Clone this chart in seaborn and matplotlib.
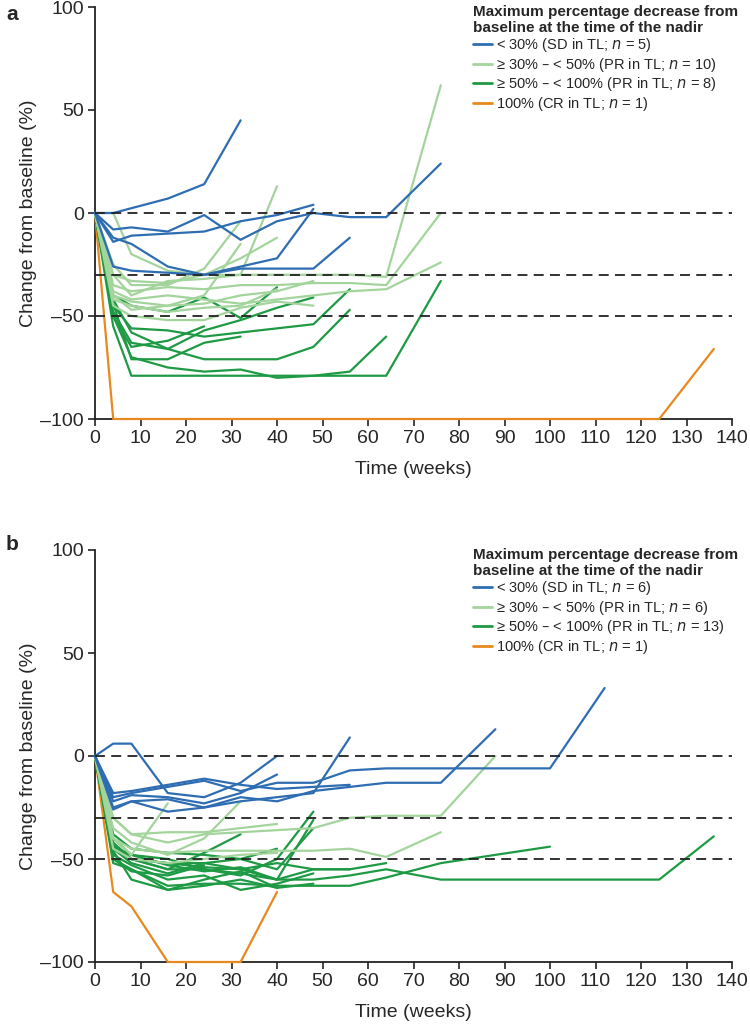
import numpy as np
import pandas as pd
import seaborn as sns
import matplotlib
matplotlib.use("Agg")
import matplotlib.pyplot as plt
from matplotlib.lines import Line2D

sns.set_theme(style="white")
plt.rcParams['font.family'] = ['Liberation Sans', 'DejaVu Sans']

# ---------------- data ----------------
GROUPS = ["<30", "30-50", "50-100", "100"]
COLORS = {"<30": "#2f6db3", "30-50": "#a3d49c", "50-100": "#1f9a44", "100": "#e8891e"}

# Panel a
a_blue = [
    ([0, 4, 16, 24, 32], [0, 0, 7, 14, 45]),
    ([0, 4, 8, 16, 24, 32, 40, 48, 56, 64, 76], [0, -8, -7, -9, -1, -13, -4, 0, -2, -2, 24]),
    ([0, 4, 8, 16, 24, 32, 40, 48], [0, -14, -11, -10, -9, -4, -1, 4]),
    ([0, 4, 8, 16, 24, 32, 40, 48], [0, -12, -15, -26, -30, -26, -22, 2]),
    ([0, 4, 8, 16, 24, 32, 40, 48, 56], [0, -26, -28, -29, -30, -27, -27, -27, -12]),
]
a_light = [
    ([0, 4, 8, 16, 24, 32, 40, 48, 56, 64, 76], [0, -30, -40, -33, -32, -30, -30, -30, -30, -31, 62]),
    ([0, 4, 8, 16, 24, 32, 40, 48, 56, 64, 76], [0, -35, -38, -36, -37, -35, -35, -34, -34, -35, 0]),
    ([0, 4, 8, 16, 24, 32, 40, 48, 56, 64, 76], [0, -38, -42, -40, -42, -44, -42, -40, -38, -37, -24]),
    ([0, 4, 8, 16, 24, 32, 40], [0, 0, -20, -28, -30, -30, 13]),
    ([0, 4, 8, 16, 24, 32], [0, -25, -35, -35, -27, -4]),
    ([0, 4, 8, 16, 24, 32, 40], [0, -30, -33, -34, -30, -22, -12]),
    ([0, 4, 8, 16, 24, 32], [0, -40, -43, -45, -40, -15]),
    ([0, 4, 8, 16, 24, 32, 40, 48], [0, -40, -47, -45, -44, -40, -38, -33]),
    ([0, 4, 8, 16, 24, 32, 40], [0, -42, -45, -48, -46, -45, -37]),
    ([0, 4, 8, 16, 24, 32, 40, 48], [0, -45, -50, -52, -52, -46, -43, -45]),
]
a_green = [
    ([0, 4, 8, 16, 24, 32, 40, 48, 56, 64, 76], [0, -55, -79, -79, -79, -79, -79, -79, -79, -79, -33]),
    ([0, 4, 8, 16, 24, 32, 40, 48, 56, 64], [0, -50, -70, -75, -77, -76, -80, -79, -77, -60]),
    ([0, 4, 8, 16, 24, 32, 40, 48, 56], [0, -48, -63, -66, -71, -71, -71, -65, -47]),
    ([0, 4, 8, 16, 24, 32, 40, 48, 56], [0, -45, -56, -57, -60, -58, -56, -54, -37]),
    ([0, 4, 8, 16, 24], [0, -50, -65, -62, -55]),
    ([0, 4, 8, 16, 24, 32, 40], [0, -40, -45, -48, -41, -51, -36]),
    ([0, 4, 8, 16, 24, 32, 40, 48], [0, -42, -58, -66, -57, -52, -46, -41]),
    ([0, 4, 8, 16, 24, 32], [0, -44, -71, -71, -63, -60]),
]
a_orange = [
    ([0, 4, 124, 136], [0, -100, -100, -66]),
]

# Panel b
b_blue = [
    ([0, 4, 8, 16, 24, 32, 40], [0, 6, 6, -18, -20, -13, 0]),
    ([0, 4, 8, 16, 24, 32, 40, 48, 56, 64, 100, 112], [0, -20, -18, -15, -12, -17, -13, -13, -7, -6, -6, 33]),
    ([0, 4, 8, 16, 24, 32, 40, 48, 56], [0, -25, -22, -21, -25, -22, -20, -18, 9]),
    ([0, 4, 8, 16, 24, 32, 40], [0, -22, -19, -20, -23, -18, -9]),
    ([0, 4, 8, 16, 24, 32, 40, 48, 56, 64, 76, 88], [0, -26, -22, -27, -25, -20, -22, -17, -15, -13, -13, 13]),
    ([0, 4, 8, 16, 24, 32, 40, 48, 56], [0, -18, -17, -14, -11, -14, -16, -15, -14]),
]
b_light = [
    ([0, 4, 8, 16, 24, 32, 40, 48, 56, 64, 76, 88], [0, -30, -38, -42, -38, -37, -36, -35, -30, -29, -29, 0]),
    ([0, 4, 8, 16, 24, 32, 40, 48, 56, 64, 76], [0, -40, -45, -47, -46, -46, -46, -46, -45, -49, -37]),
    ([0, 4, 8, 16], [0, -40, -48, -23]),
    ([0, 4, 8, 16, 24, 32], [0, -35, -42, -48, -40, -22]),
    ([0, 4, 8, 16, 24, 32, 40], [0, -30, -38, -37, -37, -35, -33]),
    ([0, 4, 8, 16, 24, 32, 40], [0, -45, -50, -52, -50, -48, -47]),
]
b_green = [
    ([0, 4, 8, 16, 24, 32, 40, 48, 56, 64, 76, 124, 136], [0, -45, -50, -55, -55, -57, -60, -60, -58, -55, -60, -60, -39]),
    ([0, 4, 8, 16, 24, 32, 40, 48, 56, 64, 76, 100], [0, -50, -55, -63, -62, -62, -63, -63, -63, -59, -52, -44]),
    ([0, 4, 8, 16, 24, 32, 40, 48], [0, -40, -48, -50, -55, -58, -50, -27]),
    ([0, 4, 8, 16, 24, 32, 40, 48], [0, -45, -52, -57, -52, -55, -60, -31]),
    ([0, 4, 8, 16, 24, 32, 40, 48], [0, -38, -45, -47, -48, -50, -55, -35]),
    ([0, 4, 8, 16, 24, 32], [0, -42, -50, -55, -47, -38]),
    ([0, 4, 8, 16, 24, 32, 40], [0, -52, -55, -65, -63, -60, -64]),
    ([0, 4, 8, 16, 24, 32, 40, 48], [0, -48, -53, -60, -58, -65, -62, -57]),
    ([0, 4, 8, 16, 24, 32, 40, 48], [0, -46, -60, -65, -60, -56, -64, -62]),
    ([0, 4, 8, 16, 24, 32, 40, 48, 56, 64], [0, -45, -50, -52, -54, -55, -52, -55, -55, -52]),
    ([0, 4, 8, 16, 24, 32, 40, 48, 56], [0, -44, -48, -53, -56, -54, -60, -55, -55]),
    ([0, 4, 8, 16, 24], [0, -50, -56, -58, -53]),
    ([0, 4, 8, 16, 24, 32, 40], [0, -43, -50, -52, -52, -50, -45]),
]
b_orange = [
    ([0, 4, 8, 16, 32, 40], [0, -66, -73, -100, -100, -66]),
]

labels_a = ["< 30% (SD in TL; $\\it{n}$ = 5)", "≥ 30% – < 50% (PR in TL; $\\it{n}$ = 10)",
            "≥ 50% – < 100% (PR in TL; $\\it{n}$ = 8)", "100% (CR in TL; $\\it{n}$ = 1)"]
labels_b = ["< 30% (SD in TL; $\\it{n}$ = 6)", "≥ 30% – < 50% (PR in TL; $\\it{n}$ = 6)",
            "≥ 50% – < 100% (PR in TL; $\\it{n}$ = 13)", "100% (CR in TL; $\\it{n}$ = 1)"]
legend_title = "Maximum percentage decrease from\nbaseline at the time of the nadir"
x_ticks = list(range(0, 141, 10))
y_ticks = [-100, -50, 0, 50, 100]
y_ticklabels = ["–100", "–50", "0", "50", "100"]
ref_lines = [0, -30, -50]


def to_frame(sets):
    rows = []
    pid = 0
    for grp, lines in zip(GROUPS, sets):
        for xs, ys in lines:
            for x, y in zip(xs, ys):
                rows.append({"week": x, "change": y, "pid": pid, "group": grp})
            pid += 1
    return pd.DataFrame(rows)


df_a = to_frame([a_blue, a_light, a_green, a_orange])
df_b = to_frame([b_blue, b_light, b_green, b_orange])

fig = plt.figure(figsize=(7.5, 10.29), dpi=100)
ax_a = fig.add_axes([95 / 750, 1 - 419 / 1029, 637 / 750, 412 / 1029])
ax_b = fig.add_axes([95 / 750, 1 - 962 / 1029, 637 / 750, 412 / 1029])

for ax, df, labels in [(ax_a, df_a, labels_a), (ax_b, df_b, labels_b)]:
    for grp in ["100", "50-100", "30-50", "<30"]:
        sub = df[df.group == grp]
        sns.lineplot(data=sub, x="week", y="change", units="pid", estimator=None,
                     color=COLORS[grp], lw=1.6, sort=False, ax=ax, legend=False)
    for ln in ax.get_lines():
        ln.set_clip_on(False)
        ln.set_zorder(3)
    for r in ref_lines:
        ax.axhline(r, color="#222222", lw=1.3, ls=(0, (5.5, 3.5)), zorder=5)
    ax.set_xlim(0, 140)
    ax.set_ylim(-100, 100)
    ax.set_xticks(x_ticks)
    ax.set_yticks(y_ticks)
    ax.set_yticklabels(y_ticklabels)
    ax.set_xlabel("Time (weeks)", fontsize=14, labelpad=10)
    ax.set_ylabel("Change from baseline (%)", fontsize=14, labelpad=2)
    ax.tick_params(axis="both", direction="out", length=5, width=1.2, color="#222222",
                   labelsize=14, pad=3, bottom=True, left=True)
    for s in ["top", "right"]:
        ax.spines[s].set_visible(False)
    for s in ["left", "bottom"]:
        ax.spines[s].set_color("#222222")
        ax.spines[s].set_linewidth(1.3)
        ax.spines[s].set_zorder(2)
    ax.grid(False)
    handles = [Line2D([0], [0], color=COLORS[g], lw=2) for g in GROUPS]
    leg = ax.legend(handles, labels, title=legend_title, loc="upper left",
                    bbox_to_anchor=(0.585, 1.02), frameon=False,
                    prop={"size": 10.5},
                    handlelength=1.3, handletextpad=0.25, labelspacing=0.1, borderaxespad=0)
    leg.get_title().set_fontweight("bold")
    leg.get_title().set_fontsize(11)
    leg.get_title().set_linespacing(1.2)
    leg._legend_box.align = "left"

fig.text(6 / 750, 1 - 14 / 1029, "a", fontsize=15, fontweight="bold", va="center")
fig.text(6 / 750, 1 - 545 / 1029, "b", fontsize=15, fontweight="bold", va="center")

fig.savefig("out.png", dpi=100, facecolor="white")
